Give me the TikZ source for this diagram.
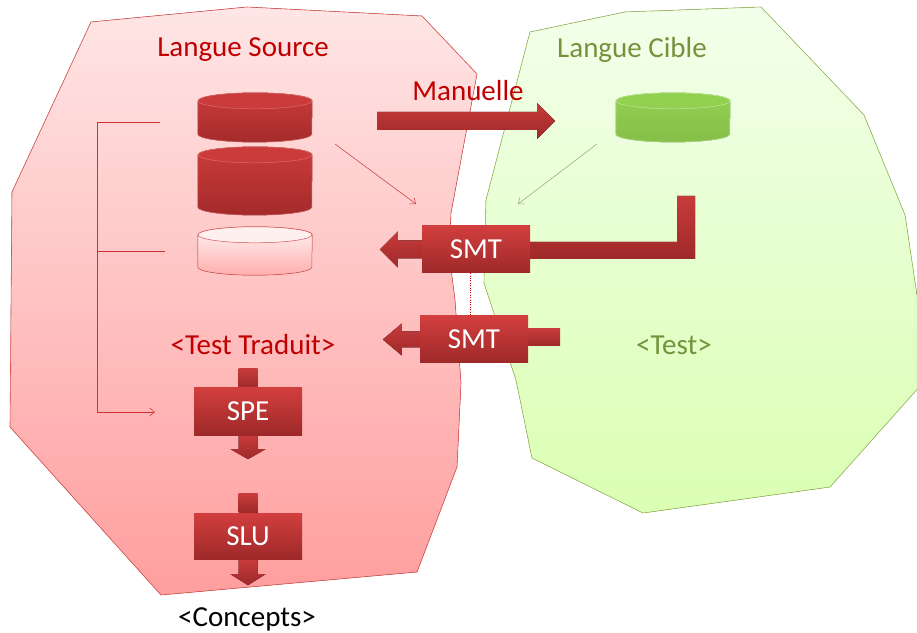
\documentclass[tikz,border=0pt]{standalone}
\usepackage{fontspec}
\setmainfont{Carlito}
\usepackage{xcolor}
\usetikzlibrary{positioning, arrows.meta}

\definecolor{srcred}{HTML}{C00000}
\definecolor{tgtgreen}{HTML}{76923C}
\definecolor{zonered}{HTML}{D9534F}
\definecolor{zonegreen}{HTML}{9BBB59}
\definecolor{boxtop}{HTML}{D23E3E}
\definecolor{boxbot}{HTML}{9E2929}
\definecolor{dbtop}{HTML}{CC3B3B}
\definecolor{dbbot}{HTML}{A42B2B}
\definecolor{dbgreen}{HTML}{92D050}
\newcommand{\diagfont}{\fontsize{29}{32}\selectfont}

\pgfdeclarelayer{background}
\pgfsetlayers{background,main}

\begin{document}
\begin{tikzpicture}[x=1pt, y=1pt, font=\diagfont,
    box/.style={rectangle, minimum width=108pt, minimum height=47pt, inner sep=0pt, top color=boxtop, bottom color=boxbot, text=white},
    blockarrow/.style={top color=boxtop!95!black, bottom color=boxbot},
    db/.style={rectangle, minimum width=114pt, inner sep=0pt},
    fine/.style={-{Straight Barb[length=5pt, width=8pt]}, line width=0.5pt}]
    \useasboundingbox (0,0) rectangle (917,632);
    \clip (0,0) rectangle (917,632);

    \begin{pgfonlayer}{background}
        \filldraw[draw=zonered, line width=0.6pt, top color=red!10!white, bottom color=red!38!white] (91,610) -- (247,625) -- (422,616) -- (477,558) -- (451,419) -- (449,379) -- (455,332) -- (461,249) -- (457,165) -- (417,60) -- (161,37) -- (10,205) -- (12,440) -- cycle;
        \filldraw[draw=zonegreen, line width=0.6pt, top color=green!50!lime!8!white, bottom color=lime!70!green!30!white] (530,600) -- (625,620) -- (761,625) -- (864,517) -- (905,417) -- (929,256) -- (830,145) -- (643,119) -- (532,174) -- (516,252) -- (484,349) -- (486,432) -- cycle;
    \end{pgfonlayer}

    \node[text=srcred] (src) at (243,582) {Langue Source};
    \node[text=tgtgreen] (tgt) at (632,582) {Langue Cible};
    \node[text=srcred] (man) at (468,541) {Manuelle};

    \node[db, minimum height=49pt] (db1) at (255,514.5) {};
    \node[db, minimum height=68pt] (db2) at (255,451) {};
    \node[db, minimum height=48pt] (db3) at (255,381) {};
    \node[db, minimum height=49pt] (dbg) at (673,514.5) {};

    \foreach \n/\ctop/\cbot/\cedge/\cend in {db1/dbtop/dbbot/dbtop!75!white/dbtop, db2/dbtop/dbbot/dbtop!75!white/dbtop, db3/red!4!white/red!32!white/zonered/red!6!white, dbg/dbgreen/dbgreen!92!black/dbgreen!55!white/dbgreen}
    {
        \filldraw[draw=\cedge, line width=0.5pt, top color=\ctop, bottom color=\cbot] ([yshift=-8pt]\n.north west) -- ([yshift=8pt]\n.south west) arc[start angle=180, end angle=360, x radius=57pt, y radius=8pt] -- ([yshift=-8pt]\n.north east) arc[start angle=0, end angle=180, x radius=57pt, y radius=8pt] -- cycle;
        \filldraw[draw=\cedge, line width=0.5pt, fill=\cend] ([yshift=-8pt]\n.north) ellipse[x radius=57pt, y radius=8pt];
    }

    \node[box] (smt1) at (476,382.5) {SMT};
    \node[box] (smt2) at (474,292.5) {SMT};
    \node[box] (spe) at (248,220.5) {SPE};
    \node[box, minimum height=46pt] (slu) at (248,96) {SLU};

    \node[text=srcred] (trad) at (253,287) {<Test Traduit>};
    \node[text=tgtgreen] (test) at (674,287) {<Test>};
    \node (conc) at (247,13) {<Concepts>};

    \coordinate (r1) at (335,488);
    \coordinate (r2) at (416,428);
    \coordinate (g1) at (597,488);
    \coordinate (g2) at (518,428);
    \coordinate (b1) at (160,510);
    \coordinate (b2) at (165,381);
    \coordinate (b3) at (155,220);

    \begin{pgfonlayer}{background}
        \fill[blockarrow] (377,502) -- (537,502) -- (537,493) -- (555,511) -- (537,529) -- (537,520) -- (377,520) -- cycle;
        \fill[blockarrow] ([yshift=-9pt]smt1.west) -- ++(-24,0) -- ++(0,-9) -- ++(-18,18) -- ++(18,18) -- ++(0,-9) -- ++(24,0) -- cycle;
        \fill[blockarrow] ([yshift=-9.5pt]smt1.east) -- ++(165,0) -- ++(0,63) -- ++(-18,0) -- ++(0,-46) -- ++(-147,0) -- cycle;
        \fill[blockarrow] ([yshift=-8pt]smt2.west) -- ++(-18,0) -- ++(0,-8) -- ++(-19,16) -- ++(19,16) -- ++(0,-8) -- ++(18,0) -- cycle;
        \fill[blockarrow] ([yshift=-6.5pt]smt2.east) -- ++(32,0) -- ++(0,17) -- ++(-32,0) -- cycle;
        \fill[blockarrow] ([xshift=-9.5pt]spe.north) -- ++(0,19) -- ++(19,0) -- ++(0,-19) -- cycle;
        \fill[blockarrow] ([xshift=-9.5pt]spe.south) -- ++(0,-14) -- ++(-8,0) -- ++(17.5,-10) -- ++(17.5,10) -- ++(-8,0) -- ++(0,14) -- cycle;
        \fill[blockarrow] ([xshift=-9.5pt]slu.north) -- ++(0,19) -- ++(19,0) -- ++(0,-19) -- cycle;
        \fill[blockarrow] ([xshift=-9.5pt]slu.south) -- ++(0,-15) -- ++(-8,0) -- ++(17.5,-11) -- ++(17.5,11) -- ++(-8,0) -- ++(0,15) -- cycle;
    \end{pgfonlayer}

    \draw[fine, draw=srcred!80!white] (r1) -- (r2);
    \draw[fine, draw=tgtgreen!80!white] (g1) -- (g2);
    \draw[fine, draw=srcred!80!white] (b1) -- ++(-63,0) |- (b3);
    \draw[draw=srcred!80!white, line width=0.5pt] (b2) -- ++(-68,0);
    \draw[dotted, draw=srcred, line width=0.4pt] ([xshift=-6pt]smt1.south) -- ([xshift=-4pt]smt2.north);
\end{tikzpicture}
\end{document}
